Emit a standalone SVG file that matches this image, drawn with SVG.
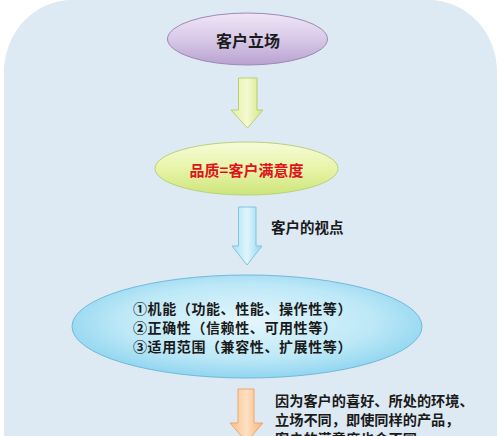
<svg xmlns="http://www.w3.org/2000/svg" width="500" height="436" viewBox="0 0 500 436">
<defs>
<linearGradient id="gPurple" x1="0" y1="0" x2="0" y2="1">
<stop offset="0" stop-color="#efe6f6"/><stop offset="0.5" stop-color="#d9c9e8"/><stop offset="1" stop-color="#b9a2d0"/>
</linearGradient>
<linearGradient id="gGreen" x1="0" y1="0" x2="0" y2="1">
<stop offset="0" stop-color="#f6fbd8"/><stop offset="0.5" stop-color="#e8f4a8"/><stop offset="1" stop-color="#cde57c"/>
</linearGradient>
<radialGradient id="gBlue" cx="0.5" cy="0.45" r="0.6">
<stop offset="0" stop-color="#e4f6fc"/><stop offset="0.6" stop-color="#bde8f7"/><stop offset="1" stop-color="#85d1ee"/>
</radialGradient>
<linearGradient id="aGreen" x1="0" y1="0" x2="1" y2="0">
<stop offset="0" stop-color="#e3f09e"/><stop offset="0.5" stop-color="#f4f9d2"/><stop offset="1" stop-color="#d2e67e"/>
</linearGradient>
<linearGradient id="aBlue" x1="0" y1="0" x2="1" y2="0">
<stop offset="0" stop-color="#a8e0f3"/><stop offset="0.5" stop-color="#e0f5fc"/><stop offset="1" stop-color="#95d6ef"/>
</linearGradient>
<linearGradient id="aOrange" x1="0" y1="0" x2="1" y2="0">
<stop offset="0" stop-color="#f8c08a"/><stop offset="0.5" stop-color="#fde0c2"/><stop offset="1" stop-color="#f6b57a"/>
</linearGradient>
<style>
.t{font-family:"Noto Sans CJK SC","Noto Sans",sans-serif;font-weight:bold;fill:#1a1a1a}
.c{text-anchor:middle;dominant-baseline:central}
.e{font-size:14px;letter-spacing:0.6px;dominant-baseline:central}
</style>
</defs>
<rect x="0" y="0" width="500" height="436" fill="#ffffff"/>
<rect id="background" x="4" y="0" width="493" height="520" rx="68" ry="72" fill="#dde9f3"/>
<g id="connectors">
<path d="M238.5,78 H257 V110 H263 L247.5,128 L231,110 H238.5 Z" fill="url(#aGreen)" stroke="#b8d070" stroke-width="1"/>
<path d="M238.5,207 H256 V246 H262 L247,265 L232,246 H238.5 Z" fill="url(#aBlue)" stroke="#80c4de" stroke-width="1"/>
<path d="M238,389 H254 V423 H263 L246.5,442 L230,423 H238 Z" fill="url(#aOrange)" stroke="#eda868" stroke-width="1"/>
<text class="t" x="271" y="226" font-size="14.5" dominant-baseline="central">客户的视点</text>
<text class="t" x="275" y="400" font-size="14.2" dominant-baseline="central">因为客户的喜好、所处的环境、</text>
<text class="t" x="275" y="419" font-size="14.2" dominant-baseline="central">立场不同，即使同样的产品，</text>
<text class="t" x="275" y="438" font-size="14.2" dominant-baseline="central">客户的满意度也会不同。</text>
</g>
<g id="node-stance">
<ellipse cx="247.5" cy="39" rx="80" ry="26" fill="url(#gPurple)" stroke="#9e8ab5" stroke-width="1"/>
<text class="t c" x="248" y="40" font-size="16">客户立场</text>
</g>
<g id="node-quality">
<ellipse cx="246.5" cy="168.5" rx="91.5" ry="26.5" fill="url(#gGreen)" stroke="#b9d27a" stroke-width="1"/>
<text class="t c" x="246.5" y="169" font-size="15" style="fill:#e0121b">品质=客户满意度</text>
</g>
<g id="node-aspects">
<ellipse cx="247" cy="326.5" rx="175" ry="51.5" fill="url(#gBlue)" stroke="#72b9d8" stroke-width="1"/>
<text class="t e" x="133" y="308">①机能（功能、性能、操作性等）</text>
<text class="t e" x="133" y="327">②正确性（信赖性、可用性等）</text>
<text class="t e" x="133" y="346">③适用范围（兼容性、扩展性等）</text>
</g>
</svg>
